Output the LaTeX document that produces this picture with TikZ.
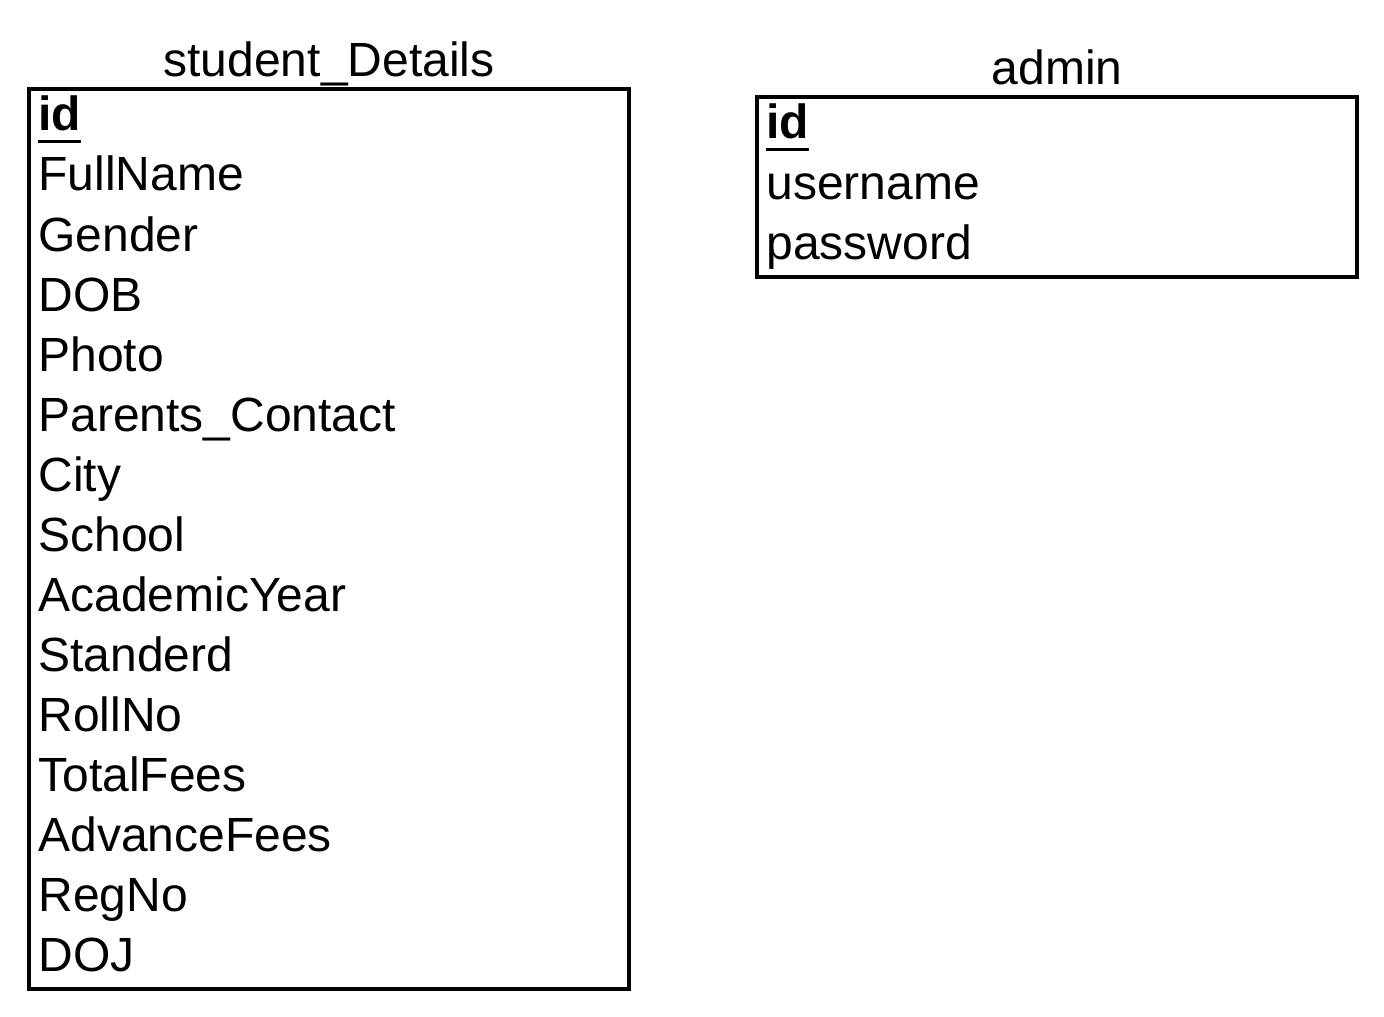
\documentclass[tikz,border=0pt]{standalone}
\usepackage{fontspec}
\setmainfont{Liberation Sans}
\usetikzlibrary{calc}

\tikzset{
  field/.style={anchor=base west, inner sep=0pt, font=\fontsize{24pt}{28pt}\selectfont},
  title/.style={anchor=base, inner sep=0pt, font=\fontsize{24pt}{28pt}\selectfont},
  tablebox/.style={line width=1.8pt},
}

\begin{document}
\begin{tikzpicture}[x=0.5pt, y=-0.5pt]
  \useasboundingbox (0, 0) rectangle (1384, 1016);

  % student_Details table
  \node[title] (stitle) at (329, 77) {student\_Details};
  \draw[tablebox] (29, 89) rectangle (629, 989);
  \node[field, font=\fontsize{24pt}{28pt}\selectfont\bfseries] (sid) at (38, 131) {id};
  \draw[line width=1.5pt] ($(sid.base west)+(0, 11)$) -- ($(sid.base east)+(0, 11)$);
  \foreach \f [count=\i] in {FullName, Gender, DOB, Photo, Parents\_Contact, City, School,
      AcademicYear, Standerd, RollNo, TotalFees, AdvanceFees, RegNo, DOJ} {
    \node[field] (sfield\i) at (38, 131+60*\i) {\f};
  }

  % admin table
  \node[title] (atitle) at (1057, 85) {admin};
  \draw[tablebox] (757, 97) rectangle (1357, 277);
  \node[field, font=\fontsize{24pt}{28pt}\selectfont\bfseries] (aid) at (766, 139) {id};
  \draw[line width=1.5pt] ($(aid.base west)+(0, 11)$) -- ($(aid.base east)+(0, 11)$);
  \node[field] (auser) at (766, 199) {username};
  \node[field] (apass) at (766, 259) {password};
\end{tikzpicture}
\end{document}
